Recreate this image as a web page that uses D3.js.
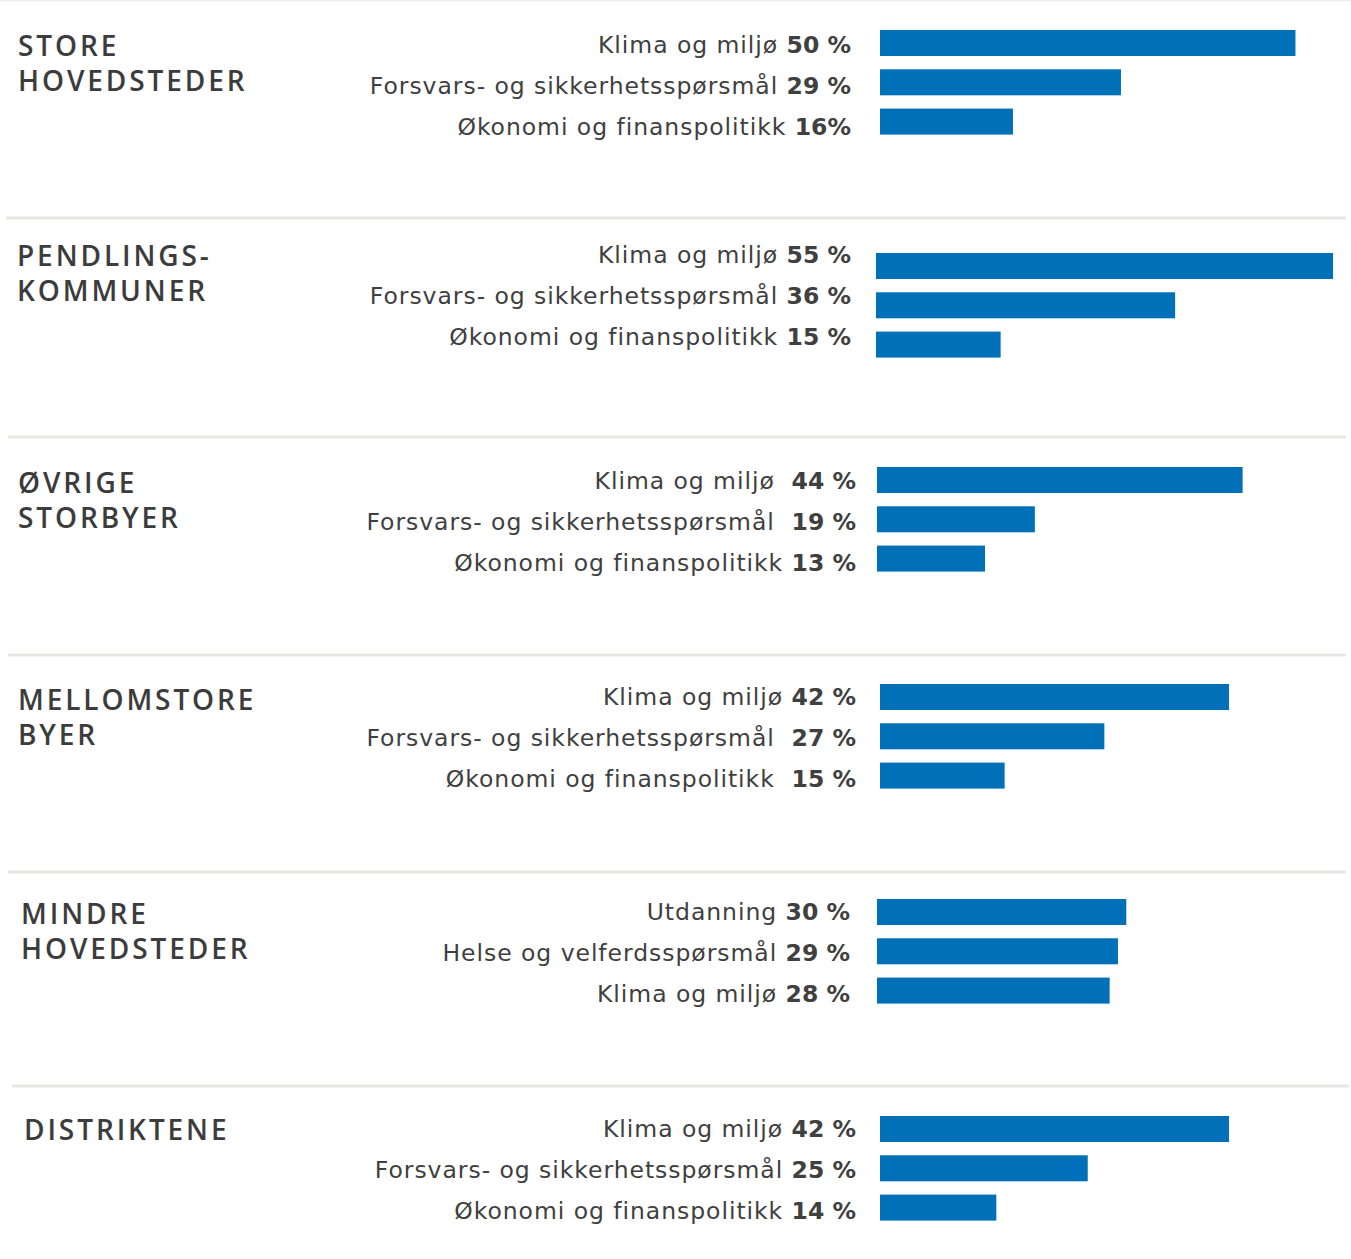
<!DOCTYPE html>
<html>
<head>
<meta charset="utf-8">
<script src="https://cdn.jsdelivr.net/npm/d3@7"></script>
<style>
  body { margin: 0; background: #fff; }
  svg text { fill: #3c3c3c; }
  .title { font-family: "Open Sans", sans-serif; font-size: 28px; font-weight: 600; letter-spacing: 2.9px; }
  .label { font-family: "DejaVu Sans", sans-serif; font-size: 23.5px; font-weight: 400; letter-spacing: 0.95px; white-space: pre; fill: #404040; }
  .label .val { font-weight: 700; letter-spacing: 0; }
</style>
</head>
<body>
<div class="graph"></div>
<script>
// data
const groups = [
    ["STORE", "HOVEDSTEDER"],
    ["PENDLINGS-", "KOMMUNER"],
    ["ØVRIGE", "STORBYER"],
    ["MELLOMSTORE", "BYER"],
    ["MINDRE", "HOVEDSTEDER"],
    ["DISTRIKTENE"]
];
const topics = [
    ["Klima og miljø", "Forsvars- og sikkerhetsspørsmål", "Økonomi og finanspolitikk"],
    ["Klima og miljø", "Forsvars- og sikkerhetsspørsmål", "Økonomi og finanspolitikk"],
    ["Klima og miljø ", "Forsvars- og sikkerhetsspørsmål ", "Økonomi og finanspolitikk"],
    ["Klima og miljø", "Forsvars- og sikkerhetsspørsmål ", "Økonomi og finanspolitikk "],
    ["Utdanning", "Helse og velferdsspørsmål", "Klima og miljø"],
    ["Klima og miljø", "Forsvars- og sikkerhetsspørsmål", "Økonomi og finanspolitikk"]
];
const shares = [
    [50, 29, 16],
    [55, 36, 15],
    [44, 19, 13],
    [42, 27, 15],
    [30, 29, 28],
    [42, 25, 14]
];
const shareText = [
    ["50 %", "29 %", "16%"],
    ["55 %", "36 %", "15 %"],
    ["44 %", "19 %", "13 %"],
    ["42 %", "27 %", "15 %"],
    ["30 %", "29 %", "28 %"],
    ["42 %", "25 %", "14 %"]
];

// layout (the source is hand placed, so each panel keeps its own offsets)
const width = 1351, height = 1259;
const panel_layout = [
    { sep: [6, 1346, 218],  titleX: 18, titleY: 56,   labelX: 851, labelY: 53,   barX: 880, barY: 30 },
    { sep: [8, 1346, 437],  titleX: 17, titleY: 266,  labelX: 851, labelY: 263,  barX: 876, barY: 253 },
    { sep: [8, 1346, 655],  titleX: 18, titleY: 493,  labelX: 856, labelY: 489,  barX: 877, barY: 467 },
    { sep: [8, 1346, 872],  titleX: 18, titleY: 710,  labelX: 856, labelY: 705,  barX: 880, barY: 684 },
    { sep: [12, 1349, 1086], titleX: 21, titleY: 924, labelX: 850, labelY: 920,  barX: 877, barY: 899 },
    { sep: null,            titleX: 24, titleY: 1140, labelX: 856, labelY: 1137, barX: 880, barY: 1116 }
];

const x = d3.scaleLinear().domain([0, 55]).range([0, 457]);
const row = d3.scaleBand().domain([0, 1, 2]).range([0, 104.6]).paddingInner(0.338);
const label_step = 40.8;

const svg = d3.select('.graph').append('svg')
    .attr('width', width)
    .attr('height', height);

// faint top rule
svg.append('line')
    .attr('x1', 0).attr('x2', width)
    .attr('y1', 0.5).attr('y2', 0.5)
    .attr('stroke', '#eeeeec').attr('stroke-width', 1.5);

groups.forEach((g, i) => {
    const L = panel_layout[i];
    const panel = svg.append('g').attr('class', 'panel');

    panel.selectAll('text.title')
        .data(g).enter().append('text')
        .attr('class', 'title')
        .attr('x', L.titleX)
        .attr('y', (d, j) => L.titleY + j * 35)
        .text(d => d);

    const labels = panel.selectAll('text.label')
        .data(topics[i]).enter().append('text')
        .attr('class', 'label')
        .attr('text-anchor', 'end')
        .attr('x', L.labelX)
        .attr('y', (d, j) => L.labelY + j * label_step);
    labels.append('tspan').text(d => d + ' ');
    labels.append('tspan').attr('class', 'val').text((d, j) => shareText[i][j]);

    panel.selectAll('rect')
        .data(shares[i]).enter().append('rect')
        .attr('x', L.barX)
        .attr('y', (d, j) => L.barY + row(j))
        .attr('width', d => x(d))
        .attr('height', row.bandwidth())
        .attr('fill', '#0070b8');

    if (L.sep) {
        svg.append('line')
            .attr('x1', L.sep[0]).attr('x2', L.sep[1])
            .attr('y1', L.sep[2]).attr('y2', L.sep[2])
            .attr('stroke', '#e8e7e4').attr('stroke-width', 3);
    }
});
</script>
</body>
</html>
